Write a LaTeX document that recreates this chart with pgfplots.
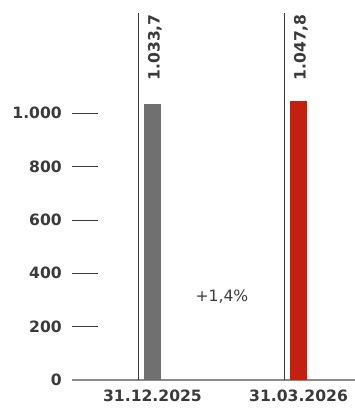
\documentclass[border=0pt]{standalone}
\usepackage{pgfplots}
\pgfplotsset{compat=1.18}
\usepackage{fontspec}
\setmainfont{DejaVu Sans}
\definecolor{txt}{HTML}{3A3A3A}
\definecolor{bargray}{HTML}{707070}
\definecolor{barred}{HTML}{C4200F}
\definecolor{basegray}{HTML}{8A8A8A}
\newcommand{\lblfont}{\fontsize{15.6}{15.6}\selectfont}
\begin{document}
\begin{tikzpicture}
\path[use as bounding box] (0,0) rectangle (355pt,410pt);
\begin{axis}[
  at={(72pt,30pt)}, anchor=south west,
  scale only axis, width=283pt, height=367pt,
  xmin=-0.551, xmax=1.387, ymin=0, ymax=1376,
  enlargelimits=false, clip=false,
  axis x line=bottom, axis y line=left,
  x axis line style={-, draw=basegray, line width=1.2pt},
  y axis line style={draw=none},
  xtick={0,1}, xticklabels={31.12.2025,31.03.2026},
  xtick style={draw=none},
  xticklabel style={font=\lblfont\bfseries, text=txt, yshift=-6pt},
  ytick={0,200,400,600,800,1000},
  yticklabels={0,200,400,600,800,1.000},
  yticklabel style={font=\lblfont\bfseries, text=txt, inner sep=0pt, xshift=-10pt},
  ytick style={draw=txt, line width=0.9pt},
  tick align=inside, major tick length=26pt,
]
% marker lines beside each bar
\addplot[txt, line width=1pt, mark=none] coordinates {(-0.0925,0) (-0.0925,1376)};
\addplot[txt, line width=1pt, mark=none] coordinates {(0.9075,0) (0.9075,1376)};
% bars
\addplot[ybar, bar width=17pt, bar shift=0pt, fill=bargray, draw=none] coordinates {(0,1033.7)};
\addplot[ybar, bar width=17pt, bar shift=0pt, fill=barred, draw=none] coordinates {(1,1047.8)};
% value labels, reading upwards, ending at the top of each line
\node[rotate=90, anchor=north east, inner sep=0pt, text=txt,
      font=\lblfont\bfseries] at (axis cs:-0.031,1372) {1.033,7};
\node[rotate=90, anchor=north east, inner sep=0pt, text=txt,
      font=\lblfont\bfseries] at (axis cs:0.969,1372) {1.047,8};
% change
\node[text=txt, font=\lblfont] at (axis cs:0.476,311) {+1,4\%};
\end{axis}
\end{tikzpicture}
\end{document}
